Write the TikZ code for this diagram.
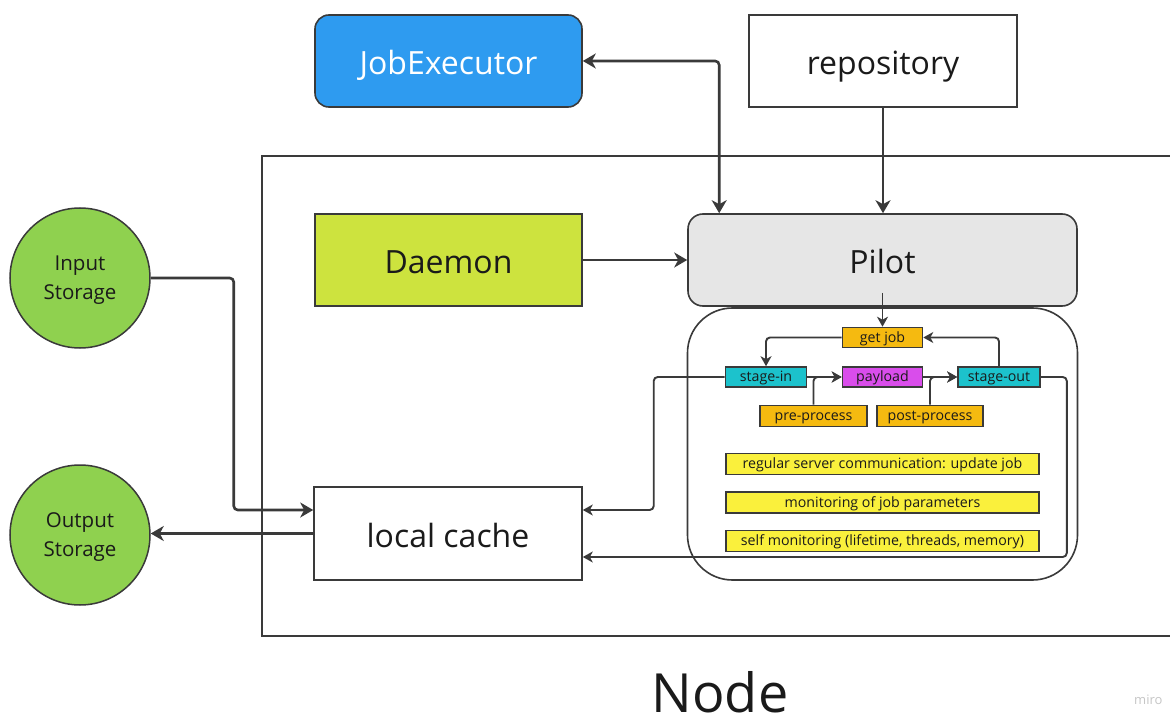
\documentclass[tikz,border=0pt]{standalone}
\usepackage{fontspec}
\setmainfont{Open Sans}
\usetikzlibrary{arrows.meta}
\definecolor{jobblue}{HTML}{2E9BF0}
\definecolor{daemongreen}{HTML}{CDE33E}
\definecolor{pilotgray}{HTML}{E6E6E6}
\definecolor{storagegreen}{HTML}{8FD14F}
\definecolor{amberbox}{HTML}{F5BA10}
\definecolor{cyanbox}{HTML}{1CC2CC}
\definecolor{magentabox}{HTML}{D94DEB}
\definecolor{yellowbox}{HTML}{FAF03C}
\definecolor{linegray}{HTML}{3A3A3A}
\definecolor{textdark}{HTML}{1A1A1A}
\begin{document}
\begin{tikzpicture}[x=1pt,y=-1pt,
  bigbox/.style={draw=linegray, line width=1.6pt, minimum width=267pt, minimum height=92pt, inner sep=0pt, text height=28pt, text depth=0pt, font=\fontsize{32}{38}\selectfont},
  storage/.style={circle, draw=linegray, line width=1.5pt, fill=storagegreen, minimum size=140pt, inner sep=0pt},
  storagetext/.style={inner sep=0pt, align=center, text=textdark, font=\fontsize{20.5}{29}\selectfont},
  smallbox/.style={draw=linegray, line width=1.6pt, inner sep=0pt, minimum height=20pt, text height=10.5pt, text depth=1.5pt, text=textdark, font=\fontsize{14.2}{16}\selectfont},
  conn/.style={draw=linegray, line width=2.6pt, rounded corners=4pt, -{Stealth[length=13pt,width=15pt,inset=4pt]}},
  sconn/.style={draw=linegray, line width=1.9pt, rounded corners=4pt, -{Stealth[length=10pt,width=11pt,inset=3pt]}}
]
\useasboundingbox (0,0) rectangle (1170,719);
\clip (0,0) rectangle (1170,719);
\fill[white] (0,0) rectangle (1170,719);

% outer Node frame
\draw[linegray, line width=1.6pt] (262,156) rectangle (1185,636);
\node[inner sep=0pt, font=\fontsize{54}{60}\selectfont, text=textdark] (nodelabel) at (720,692) {Node};
\node[anchor=west, inner sep=0pt, text=gray!45, font=\fontsize{13}{15}\selectfont] (miro) at (1134,700) {miro};

% top boxes
\node[bigbox, fill=jobblue, rounded corners=14pt, text=white] (je) at (448.5,61) {JobExecutor};
\node[bigbox, fill=white, minimum width=268pt, text=textdark] (repo) at (883,61) {repository};

% main row
\node[bigbox, fill=daemongreen, text=textdark] (daemon) at (448.5,260) {Daemon};
\node[bigbox, fill=pilotgray, rounded corners=15pt, minimum width=389pt, text=textdark] (pilot) at (882.5,260) {Pilot};

% inner panel
\node[draw=linegray, line width=1.6pt, rounded corners=45pt, minimum width=390pt, minimum height=272pt, inner sep=0pt] (panel) at (882.5,444) {};

% storages and cache
\node[storage] (input) at (80,278) {};
\node[storagetext] (inputtext) at (80,280) {Input\\Storage};
\node[storage] (output) at (80,535) {};
\node[storagetext] (outputtext) at (80,537) {Output\\Storage};
\node[bigbox, fill=white, minimum width=268pt, minimum height=93pt, text=textdark] (cache) at (448,533.5) {local cache};

% small boxes
\node[smallbox, fill=amberbox, minimum width=80pt] (getjob) at (882.5,337.5) {get job};
\node[smallbox, fill=cyanbox, minimum width=81pt] (stagein) at (766,377) {stage-in};
\node[smallbox, fill=magentabox, minimum width=80pt] (payload) at (882.5,377) {payload};
\node[smallbox, fill=cyanbox, minimum width=82pt] (stageout) at (999,377) {stage-out};
\node[smallbox, fill=amberbox, minimum width=107pt, minimum height=21pt] (pre) at (813.5,416) {pre-process};
\node[smallbox, fill=amberbox, minimum width=106pt, minimum height=21pt] (post) at (930,416) {post-process};
\node[smallbox, fill=yellowbox, minimum width=313pt, minimum height=21pt] (reg) at (882.5,464) {regular server communication: update job};
\node[smallbox, fill=yellowbox, minimum width=313pt, minimum height=21pt] (mon) at (882.5,502.5) {monitoring of job parameters};
\node[smallbox, fill=yellowbox, minimum width=313pt, minimum height=21pt] (self) at (882.5,541) {self monitoring (lifetime, threads, memory)};

% main connectors
\draw[conn, {Stealth[length=13pt,width=15pt,inset=4pt]}-{Stealth[length=13pt,width=15pt,inset=4pt]}] (je.east) -| ([xshift=32pt]pilot.north west);
\draw[conn] (repo.south) -- (repo.south |- pilot.north);
\draw[conn] (daemon.east) -- (pilot.west);
\draw[conn] (input.east) -- ++(83,0) |- ([yshift=23.5pt]cache.west);
\draw[conn] (cache.west) -- (cache.west -| output.east);

% panel connectors
\draw[sconn] ([yshift=14pt]pilot.south) -- (getjob.north);
\draw[sconn] (getjob.west) -| (stagein.north);
\draw[sconn] (stageout.north) |- (getjob.east);
\draw[sconn] (stagein.east) -- (payload.west);
\draw[sconn] (pre.north) |- (payload.west);
\draw[sconn] (payload.east) -- (stageout.west);
\draw[sconn] (post.north) |- (stageout.west);
\draw[sconn] (stagein.west) -- ++(-71,0) |- ([yshift=23.5pt]cache.east);
\draw[sconn] (stageout.east) -- ++(26,0) |- ([yshift=-23.5pt]cache.east);
\end{tikzpicture}
\end{document}
